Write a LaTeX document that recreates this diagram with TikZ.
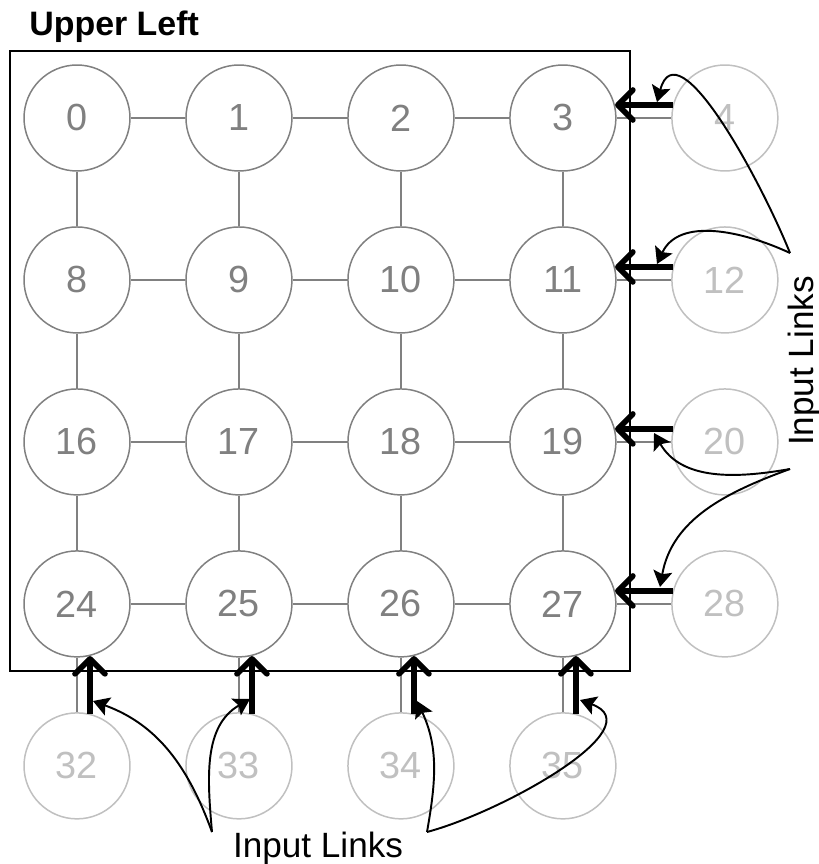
\documentclass[tikz,border=0pt]{standalone}
\usepackage{fontspec}
\setmainfont{Liberation Sans}
\usepackage{tikz}
\usetikzlibrary{arrows.meta,fit}
\usetikzlibrary{positioning}
\definecolor{nodegray}{HTML}{808080}
\definecolor{ghostgray}{HTML}{C0C0C0}
\tikzstyle{router} = [draw=nodegray,circle,line width=0.85pt,fill=white,text=nodegray,minimum size=2.12cm,inner sep=0pt,font=\fontsize{21.5}{24}\selectfont]
\tikzstyle{ghost}  = [router,draw=ghostgray,text=ghostgray]
\tikzstyle{frame}  = [draw,rectangle,line width=1.1pt,inner sep=0.265cm]
\tikzstyle{link}   = [nodegray,line width=0.85pt]
\tikzstyle{inlink} = [black,line width=3.2pt,-{Straight Barb[length=3mm,width=6mm,round]}]
\tikzstyle{callout}= [draw=black,line width=1.1pt,-{Stealth[length=3.2mm,width=3.8mm,inset=0.6mm]}]
\tikzstyle{lbl}    = [inner sep=0pt,font=\fontsize{20}{24}\selectfont]

\begin{document}
\begin{tikzpicture}[x=0.02cm,y=0.02cm,node distance=3.24cm]
\useasboundingbox (0,0) rectangle (818,-864);

% the 4x4 block of routers
\node[router] (n0) at (77,-118) {0};
\node[router] (n1) [right of=n0] {1};
\node[router] (n2) [right of=n1] {2};
\node[router] (n3) [right of=n2] {3};
\node[router] (n8) [below of=n0] {8};
\node[router] (n9) [right of=n8] {9};
\node[router] (n10) [right of=n9] {10};
\node[router] (n11) [right of=n10] {11};
\node[router] (n16) [below of=n8] {16};
\node[router] (n17) [right of=n16] {17};
\node[router] (n18) [right of=n17] {18};
\node[router] (n19) [right of=n18] {19};
\node[router] (n24) [below of=n16] {24};
\node[router] (n25) [right of=n24] {25};
\node[router] (n26) [right of=n25] {26};
\node[router] (n27) [right of=n26] {27};

% neighbours outside the block
\node[ghost] (n4) [right of=n3] {4};
\node[ghost] (n12) [right of=n11] {12};
\node[ghost] (n20) [right of=n19] {20};
\node[ghost] (n28) [right of=n27] {28};
\node[ghost] (n32) [below of=n24] {32};
\node[ghost] (n33) [below of=n25] {33};
\node[ghost] (n34) [below of=n26] {34};
\node[ghost] (n35) [below of=n27] {35};

\node[frame, fit=(n0)(n27)] (box) {};
\node[inner sep=0pt, anchor=base west, font=\fontsize{19.3}{22}\selectfont\bfseries] (title) at (29,-36) {Upper Left};

\path[link]
	(n0) edge (n1) (n1) edge (n2) (n2) edge (n3)
	(n8) edge (n9) (n9) edge (n10) (n10) edge (n11)
	(n16) edge (n17) (n17) edge (n18) (n18) edge (n19)
	(n24) edge (n25) (n25) edge (n26) (n26) edge (n27)
	(n0) edge (n8) (n8) edge (n16) (n16) edge (n24)
	(n1) edge (n9) (n9) edge (n17) (n17) edge (n25)
	(n2) edge (n10) (n10) edge (n18) (n18) edge (n26)
	(n3) edge (n11) (n11) edge (n19) (n19) edge (n27)
	(n3) edge (n4) (n11) edge (n12) (n19) edge (n20) (n27) edge (n28)
	(n24) edge (n32) (n25) edge (n33) (n26) edge (n34) (n27) edge (n35);

% input links into the block
\path[inlink]
	(n4.166) edge (n3.14)
	(n12.166) edge (n11.14)
	(n20.166) edge (n19.14)
	(n28.166) edge (n27.14)
	(n32.76) edge (n24.-76)
	(n33.76) edge (n25.-76)
	(n34.76) edge (n26.-76)
	(n35.76) edge (n27.-76);

\node[lbl, rotate=90, anchor=base] (lblR) at (813,-361) {Input Links};
\node[lbl, anchor=base] (lblB) at (318,-857) {Input Links};

\coordinate (srcR1) at (790,-253);
\coordinate (srcR2) at (790,-469);
\coordinate (srcB1) at (212,-832);
\coordinate (srcB2) at (427,-832);
\coordinate (tip3) at (657,-102);
\coordinate (tip11) at (657,-264);
\coordinate (tip19) at (654,-433);
\coordinate (tip27) at (660,-587);
\coordinate (tip24) at (93,-701);
\coordinate (tip25) at (250,-699);
\coordinate (tip26) at (417,-701);
\coordinate (tip35) at (580,-700);

\draw[callout] (srcR1) to[out=112,in=75] (tip3);
\draw[callout] (srcR1) to[out=155,in=65] (tip11);
\draw[callout] (srcR2) to[out=190,in=-60] (tip19);
\draw[callout] (srcR2) to[out=200,in=80] (tip27);
\draw[callout] (srcB1) to[out=110,in=-20] (tip24);
\draw[callout] (srcB1) to[out=95,in=210] (tip25);
\draw[callout] (srcB2) to[out=80,in=-65] (tip26);
\draw[callout] (srcB2) to[out=15,in=-20] (tip35);

\end{tikzpicture}
\end{document}
